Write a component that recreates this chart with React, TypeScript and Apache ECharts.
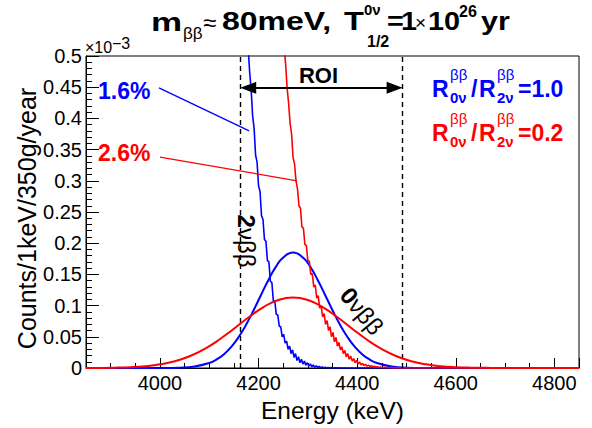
import React, { useEffect, useRef } from "react";
import * as echarts from "echarts";

const FONT = "Liberation Sans, Arial, Helvetica, sans-serif";
const BLUE = "#0000ff";
const RED = "#ff0000";

// Axis ranges (values in units of 1e-3 counts)
const X_MIN = 3850;
const X_MAX = 4850;
const Y_MIN = 0;
const Y_MAX = 0.5;
const Y_INTERVAL = 0.05;

// ROI
const roiLow = 4163;
const roiHigh = 4492;
const roiArrowFrom = 4179;
const roiArrowTo = 4476;
const roiArrowY = 0.449;

// 2vbb, 1.6% resolution (blue)
const blue2nE = [4170, 4173, 4176, 4179, 4182, 4185, 4188, 4191, 4194, 4197, 4200, 4203, 4206, 4209, 4212, 4215, 4218, 4221, 4224, 4227, 4230, 4233, 4236, 4239, 4242, 4245, 4248, 4251, 4254, 4257, 4260, 4263, 4266, 4269, 4272, 4275, 4278, 4281, 4284, 4287, 4290, 4293, 4296, 4299, 4302, 4305, 4308, 4311, 4314, 4317, 4320, 4323, 4326, 4329, 4332, 4335, 4338, 4341, 4344, 4347, 4350, 4356, 4365, 4850];
const blue2nY = [0.66, 0.615, 0.56, 0.512, 0.474, 0.446, 0.404, 0.384, 0.341, 0.33, 0.292, 0.283, 0.244, 0.238, 0.206, 0.203, 0.172, 0.17, 0.139, 0.137, 0.108, 0.107, 0.086, 0.085, 0.067, 0.066, 0.05, 0.054, 0.04, 0.043, 0.03, 0.035, 0.023, 0.029, 0.017, 0.023, 0.012, 0.018, 0.0085, 0.014, 0.0062, 0.011, 0.0045, 0.0085, 0.003, 0.0065, 0.0022, 0.0048, 0.0012, 0.0036, 0.0008, 0.0026, 0.0004, 0.0019, 0.0002, 0.0014, 0.0001, 0.001, 0, 0.0006, 0, 0.0003, 0, 0];

// 2vbb, 2.6% resolution (red)
const red2nE = [4240, 4243, 4246, 4249, 4252, 4255, 4258, 4261, 4264, 4267, 4270, 4273, 4276, 4279, 4282, 4285, 4288, 4291, 4294, 4297, 4300, 4303, 4306, 4309, 4312, 4315, 4318, 4321, 4324, 4327, 4330, 4333, 4336, 4339, 4342, 4345, 4348, 4351, 4354, 4357, 4360, 4363, 4366, 4369, 4372, 4375, 4378, 4381, 4384, 4387, 4390, 4393, 4396, 4399, 4402, 4405, 4408, 4411, 4414, 4417, 4420, 4423, 4426, 4429, 4432, 4435, 4438, 4441, 4444, 4447, 4450, 4456, 4462, 4468, 4474, 4480, 4490, 4500, 4850];
const red2nY = [0.68, 0.634, 0.594, 0.556, 0.514, 0.486, 0.448, 0.424, 0.392, 0.375, 0.338, 0.327, 0.3, 0.287, 0.26, 0.256, 0.226, 0.224, 0.198, 0.196, 0.172, 0.171, 0.15, 0.151, 0.13, 0.133, 0.112, 0.116, 0.096, 0.1, 0.082, 0.087, 0.07, 0.076, 0.06, 0.066, 0.05, 0.057, 0.042, 0.049, 0.035, 0.041, 0.029, 0.034, 0.023, 0.028, 0.018, 0.023, 0.014, 0.019, 0.011, 0.015, 0.0085, 0.012, 0.0065, 0.0095, 0.005, 0.0075, 0.0038, 0.006, 0.0029, 0.0047, 0.0022, 0.0037, 0.0016, 0.0029, 0.0012, 0.0022, 0.0009, 0.0016, 0.0006, 0.0011, 0.0004, 0.0007, 0.0002, 0.0004, 0.0001, 0, 0];

// 0vbb, 1.6% resolution (blue)
const blue0nE = [3850, 3950, 4000, 4040, 4070, 4100, 4115, 4130, 4145, 4160, 4175, 4190, 4205, 4220, 4235, 4250, 4270, 4290, 4305, 4320, 4335, 4350, 4365, 4380, 4395, 4410, 4425, 4440, 4470, 4500, 4540, 4600, 4850];
const blue0nY = [0, 0, 0.00007, 0.0006, 0.0024, 0.0081, 0.0138, 0.0222, 0.0342, 0.05, 0.0697, 0.0926, 0.117, 0.141, 0.162, 0.177, 0.185, 0.177, 0.162, 0.141, 0.117, 0.0926, 0.0697, 0.05, 0.0342, 0.0222, 0.0138, 0.0081, 0.0024, 0.0006, 0.00007, 0, 0];

// 0vbb, 2.6% resolution (red)
const red0nE = [3850, 3910, 3940, 3970, 4000, 4030, 4060, 4090, 4120, 4150, 4180, 4210, 4240, 4270, 4300, 4330, 4360, 4390, 4420, 4450, 4480, 4510, 4540, 4570, 4600, 4630, 4670, 4720, 4850];
const red0nY = [0.00009, 0.00059, 0.00136, 0.00293, 0.00587, 0.0109, 0.0189, 0.0303, 0.0453, 0.063, 0.0813, 0.0977, 0.109, 0.113, 0.109, 0.0977, 0.0813, 0.063, 0.0453, 0.0303, 0.0189, 0.0109, 0.00587, 0.00293, 0.00136, 0.00059, 0.00017, 0.00003, 0];

// Pointer lines from the resolution labels to the curves
const bluePointer = [[3998, 0.449], [4181, 0.38]];
const redPointer = [[4000, 0.338], [4278, 0.3]];

const zip = (xs: number[], ys: number[]) => xs.map((x, i) => [x, ys[i]]);

type TOpt = {
  size?: number;
  bold?: boolean;
  color?: string;
  align?: string;
  rotation?: number;
  scaleX?: number;
  rich?: any;
};
const txt = (text: string, x: number, y: number, o: TOpt = {}) => ({
  type: "text",
  x,
  y,
  z: 100,
  rotation: o.rotation || 0,
  scaleX: o.scaleX || 1,
  style: {
    text,
    fill: o.color || "#000",
    fontFamily: FONT,
    fontSize: o.size || 20,
    fontWeight: o.bold ? "bold" : "normal",
    align: o.align || "left",
    verticalAlign: "middle",
    textAlign: o.align || "left",
    textVerticalAlign: "middle",
    ...(o.rich ? { rich: o.rich } : {}),
  },
});

function buildOption() {
  const richBold = { b: { fontWeight: "bold", fontSize: 24, fontFamily: FONT, fill: "#000" }, n: { fontSize: 24, fontFamily: FONT, fill: "#000" } };
  const graphics: any[] = [
    // title
    txt("m", 151, 21.5, { size: 25, bold: true, scaleX: 1.4 }),
    txt("ββ", 183, 33, { size: 17 }),
    txt("≈", 203, 22, { size: 24 }),
    txt("80meV,", 222, 21.5, { size: 25, bold: true, scaleX: 1.28 }),
    txt("T", 344, 21.5, { size: 25, bold: true, scaleX: 1.3 }),
    txt("0ν", 364, 9, { size: 15, bold: true }),
    txt("1/2", 367, 41.5, { size: 16, bold: true }),
    txt("=", 387, 21.5, { size: 25, bold: true, scaleX: 1.15 }),
    txt("1", 401, 21.5, { size: 25, bold: true, scaleX: 1.15 }),
    txt("×", 415, 22, { size: 19 }),
    txt("10", 428, 21.5, { size: 25, bold: true, scaleX: 1.15 }),
    txt("26", 459, 11.5, { size: 16, bold: true }),
    txt("yr", 481, 21.5, { size: 25, bold: true, scaleX: 1.22 }),
    // axis multiplier
    txt("×10", 85, 47.5, { size: 16 }),
    txt("−3", 112, 43, { size: 16 }),
    // y axis title
    txt("Counts/1keV/350g/year", 27, 218.5, { size: 25, align: "center", rotation: Math.PI / 2 }),
    // resolution labels
    txt("1.6%", 98, 90.5, { size: 23, bold: true, color: BLUE }),
    txt("2.6%", 98, 152.5, { size: 23, bold: true, color: RED }),
    // ROI
    txt("ROI", 318.5, 75.5, { size: 22, bold: true, align: "center" }),
    // rotated labels
    txt("{b|2}{n|νββ}", 246, 241, { size: 24, align: "center", rotation: -Math.PI / 2, rich: richBold }),
    txt("{b|0}{n|νββ}", 362, 311, { size: 24, align: "center", rotation: -0.88, rich: richBold }),
  ];
  const legendRow = (y: number, color: string, value: string) => [
    txt("R", 432, y, { size: 23, bold: true, color }),
    txt("ββ", 450, y - 14.5, { size: 15, color }),
    txt("0ν", 450, y + 9, { size: 15, bold: true, color }),
    txt("/", 471, y, { size: 23, bold: true, color }),
    txt("R", 479, y, { size: 23, bold: true, color }),
    txt("ββ", 497, y - 14.5, { size: 15, color }),
    txt("2ν", 497, y + 9, { size: 15, bold: true, color }),
    txt(value, 518, y, { size: 23, bold: true, color }),
  ];
  graphics.push(...legendRow(88.5, BLUE, "=1.0"));
  graphics.push(...legendRow(132.5, RED, "=0.2"));

  const labelStyle = { color: "#000", fontSize: 20, fontFamily: FONT };

  return {
    animation: false,
    backgroundColor: "#fff",
    grid: {
      left: 86,
      right: 13,
      top: 56,
      bottom: 60,
      show: true,
      borderColor: "#000",
      borderWidth: 1,
      backgroundColor: "transparent",
    },
    xAxis: [
      {
        type: "value",
        min: X_MIN,
        max: X_MAX,
        position: "bottom",
        splitNumber: 5,
        axisLine: { show: true, lineStyle: { color: "#000", width: 1 } },
        axisTick: { show: true, inside: true, length: 10, lineStyle: { color: "#000" } },
        axisLabel: {
          ...labelStyle,
          margin: 5,
          formatter: (v: number) => (v % 200 === 0 ? String(v) : ""),
        },
        splitLine: { show: false },
        name: "Energy (keV)",
        nameLocation: "middle",
        nameGap: 24,
        nameTextStyle: { color: "#000", fontSize: 24.5, fontFamily: FONT },
      },
      {
        type: "value",
        min: X_MIN,
        max: X_MAX,
        interval: 50,
        position: "bottom",
        axisLine: { show: false },
        axisTick: { show: true, inside: true, length: 5, lineStyle: { color: "#000" } },
        axisLabel: { show: false },
        splitLine: { show: false },
      },
    ],
    yAxis: {
      type: "value",
      min: Y_MIN,
      max: Y_MAX,
      interval: Y_INTERVAL,
      axisLine: { show: true, lineStyle: { color: "#000", width: 1 } },
      axisTick: { show: true, inside: true, length: 13, lineStyle: { color: "#000" } },
      minorTick: { show: true, splitNumber: 5, length: 6, lineStyle: { color: "#000" } },
      axisLabel: {
        ...labelStyle,
        margin: 4,
        formatter: (v: number) => String(parseFloat(v.toFixed(2))),
      },
      splitLine: { show: false },
    },
    series: [
      {
        type: "line",
        name: "2vbb 1.6%",
        data: zip(blue2nE, blue2nY),
        showSymbol: false,
        symbol: "none",
        clip: true,
        lineStyle: { color: BLUE, width: 1.6 },
        itemStyle: { color: BLUE },
        z: 2,
        markLine: {
          silent: true,
          symbol: "none",
          label: { show: false },
          lineStyle: { color: "#000", type: [5, 4], width: 1.4 },
          data: [{ xAxis: roiLow }, { xAxis: roiHigh }],
        },
      },
      {
        type: "line",
        name: "0vbb 1.6%",
        data: zip(blue0nE, blue0nY),
        smooth: true,
        showSymbol: false,
        symbol: "none",
        clip: true,
        lineStyle: { color: BLUE, width: 2 },
        itemStyle: { color: BLUE },
        z: 3,
        markLine: {
          silent: true,
          symbol: "none",
          label: { show: false },
          data: [
            [
              { coord: bluePointer[0], lineStyle: { color: BLUE, width: 1.3, type: "solid" } },
              { coord: bluePointer[1] },
            ],
            [
              { coord: redPointer[0], lineStyle: { color: RED, width: 1.3, type: "solid" } },
              { coord: redPointer[1] },
            ],
          ],
        },
      },
      {
        type: "line",
        name: "2vbb 2.6%",
        data: zip(red2nE, red2nY),
        showSymbol: false,
        symbol: "none",
        clip: true,
        lineStyle: { color: RED, width: 1.6 },
        itemStyle: { color: RED },
        z: 4,
        markLine: {
          silent: true,
          symbol: ["triangle", "triangle"],
          symbolSize: [12, 16],
          label: { show: false },
          lineStyle: { color: "#000", type: "solid", width: 2 },
          data: [[{ coord: [roiArrowFrom, roiArrowY] }, { coord: [roiArrowTo, roiArrowY] }]],
        },
      },
      {
        type: "line",
        name: "0vbb 2.6%",
        data: zip(red0nE, red0nY),
        smooth: true,
        showSymbol: false,
        symbol: "none",
        clip: true,
        lineStyle: { color: RED, width: 2 },
        itemStyle: { color: RED },
        z: 5,
      },
    ],
    graphic: graphics,
  };
}

export default function App() {
  const ref = useRef<HTMLDivElement>(null);
  useEffect(() => {
    if (!ref.current) return;
    const chart = echarts.init(ref.current, null, { renderer: "svg" });
    chart.setOption(buildOption() as any);
    return () => {
      chart.dispose();
    };
  }, []);
  return (
    <div
      ref={ref}
      style={{ position: "fixed", left: 0, top: 0, width: 592, height: 428, background: "#fff" }}
    />
  );
}
